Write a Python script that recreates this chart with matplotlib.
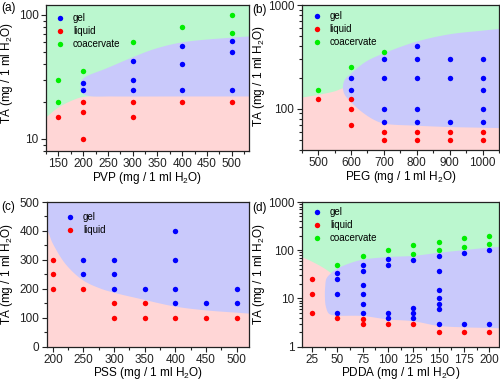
import numpy as np
import matplotlib
matplotlib.use("Agg")
import matplotlib.pyplot as plt
from matplotlib.ticker import FuncFormatter, NullFormatter, MultipleLocator, LogLocator

plt.rcParams['font.family'] = ['Liberation Sans', 'DejaVu Sans']
plt.rcParams['mathtext.fontset'] = 'custom'
plt.rcParams['mathtext.rm'] = 'Liberation Sans'
plt.rcParams['mathtext.it'] = 'Liberation Sans:italic'

# ---------------- data ----------------
# (a) PVP
pvp_gel_x = [200, 200, 300, 300, 300, 400, 400, 400, 500, 500, 500]
pvp_gel_y = [28.5, 25, 42.5, 30, 25, 56.5, 40, 25, 62, 50, 25]
pvp_liq_x = [150, 200, 200, 200, 300, 300, 400, 500]
pvp_liq_y = [15, 20, 16.6, 10, 20, 15, 20, 20]
pvp_coa_x = [150, 150, 200, 300, 400, 500, 500]
pvp_coa_y = [30, 20, 35, 60, 80, 100, 71]

# (b) PEG
peg_gel_x = [600, 600, 700, 700, 700, 700, 800, 800, 800, 800, 800,
             900, 900, 900, 1000, 1000, 1000, 1000, 1000]
peg_gel_y = [200, 150, 300, 200, 100, 75, 400, 300, 200, 100, 75,
             300, 200, 75, 300, 200, 150, 100, 75]
peg_liq_x = [500, 600, 600, 600, 700, 700, 800, 800, 900, 900, 1000, 1000]
peg_liq_y = [125, 125, 100, 70, 60, 50, 60, 50, 60, 50, 60, 50]
peg_coa_x = [500, 600, 700]
peg_coa_y = [150, 250, 350]

# (c) PSS
pss_gel_x = [250, 250, 300, 300, 300, 350, 400, 400, 400, 400, 450, 500, 500]
pss_gel_y = [300, 250, 300, 250, 200, 200, 400, 300, 200, 150, 150, 200, 150]
pss_liq_x = [200, 200, 200, 250, 300, 300, 350, 350, 400, 450, 500]
pss_liq_y = [300, 250, 200, 200, 150, 100, 150, 100, 100, 100, 100]

# (d) PDDA
pdda_gel_x = [50, 50, 50, 50, 75, 75, 75, 75, 75, 75, 100, 100, 100, 100,
              125, 125, 125, 125, 150, 150, 150, 150, 150, 150, 150, 175, 175, 200, 200]
pdda_gel_y = [33.3, 25, 12.5, 5, 50, 37.5, 18.75, 12.5, 7.5, 5, 66.7, 50, 5, 4,
              62.5, 6.25, 5, 4, 75, 37.5, 15, 10, 7.5, 6, 3, 87.5, 3, 100, 3]
pdda_liq_x = [25, 25, 25, 50, 75, 75, 100, 125, 150, 175, 200]
pdda_liq_y = [25, 12.5, 5, 4, 3.75, 3, 3, 3, 2, 2, 2]
pdda_coa_x = [50, 75, 100, 125, 125, 150, 150, 175, 175, 200, 200]
pdda_coa_y = [50, 75, 100, 125, 83.3, 150, 100, 175, 116.7, 200, 133.3]

# region boundaries
a_red_x = [110, 125, 150, 179, 200, 250, 550]
a_red_y = [13.5, 14.9, 17.9, 20.5, 21.8, 22.2, 22.2]
a_blue_x = [550, 400, 260, 212, 199, 194.5, 197, 206, 247, 300, 344, 400, 500, 550]
a_blue_y = [22.0, 22.0, 22.0, 22.2, 23.3, 26, 29.5, 31.8, 37, 45.5, 53, 60, 65.5, 67.5]

b_red_x = [440, 450, 500, 550, 578, 620, 1060]
b_red_y = [127, 128, 136, 147, 158, 160, 160]
b_blue_x = [1060, 1000, 900, 800, 700, 667, 626, 599, 581, 575.5, 581, 599, 646, 700, 800, 900, 1000, 1060]
b_blue_y = [65, 65.6, 66.6, 68.6, 72, 79, 97, 117, 136, 160, 190, 217, 285, 342, 444, 522, 566, 592]

c_red_x = [185, 190, 200, 222, 250, 277, 300, 342, 400, 450, 500, 525]
c_red_y = [412, 405, 356, 282, 228, 201, 186, 165, 138, 125, 117, 113]

d_red_x = [10, 15, 25, 35.6, 43.8, 50, 60, 215]
d_red_y = [80, 72, 58, 44, 33.5, 25, 20, 20]
d_blue_x = [215, 200, 175, 150, 125, 100, 75, 48.8, 42.2, 38.9, 37.9, 38.2, 39.5, 43.8,
            49.8, 62, 74.6, 100, 125, 150, 175, 200, 215]
d_blue_y = [2.38, 2.43, 2.5, 2.68, 3.35, 3.65, 4.3, 4.4, 4.74, 6.7, 10.8, 17.4, 25.9, 32.9,
            41, 53, 63, 72, 76, 88, 100, 113, 118]

GREEN_BG = '#bbf7cf'
RED_BG = '#ffd6d6'
BLUE_BG = '#c9c9fb'
C_GEL = '#0000ff'
C_LIQ = '#ff0000'
C_COA = '#00ee00'


def _cr(P0, P1, P2, P3, n, alpha=0.5):
    def tj(ti, Pi, Pj):
        d = np.linalg.norm(Pj - Pi)
        return ti + max(d, 1e-9) ** alpha
    t0 = 0.0
    t1 = tj(t0, P0, P1)
    t2 = tj(t1, P1, P2)
    t3 = tj(t2, P2, P3)
    t = np.linspace(t1, t2, n)[:, None]
    A1 = (t1 - t) / (t1 - t0) * P0 + (t - t0) / (t1 - t0) * P1
    A2 = (t2 - t) / (t2 - t1) * P1 + (t - t1) / (t2 - t1) * P2
    A3 = (t3 - t) / (t3 - t2) * P2 + (t - t2) / (t3 - t2) * P3
    B1 = (t2 - t) / (t2 - t0) * A1 + (t - t0) / (t2 - t0) * A2
    B2 = (t3 - t) / (t3 - t1) * A2 + (t - t1) / (t3 - t1) * A3
    return (t2 - t) / (t2 - t1) * B1 + (t - t1) / (t2 - t1) * B2


def smooth(xs, ys, xlim, ylim, logy, n=25):
    X = np.asarray(xs, float)
    Y = np.log10(ys) if logy else np.asarray(ys, float)
    sx = xlim[1] - xlim[0]
    sy = (np.log10(ylim[1]) - np.log10(ylim[0])) if logy else (ylim[1] - ylim[0])
    P = np.column_stack([X / sx, Y / sy])
    P = np.vstack([2 * P[0] - P[1], P, 2 * P[-1] - P[-2]])
    segs = []
    for i in range(1, len(P) - 2):
        s = _cr(P[i - 1], P[i], P[i + 1], P[i + 2], n)
        segs.append(s if i == 1 else s[1:])
    C = np.vstack(segs)
    x = C[:, 0] * sx
    y = C[:, 1] * sy
    if logy:
        y = 10 ** y
    return x, y


fig = plt.figure(figsize=(5.0, 3.81), dpi=100)
W, H = 500.0, 381.0


def make_ax(l, r, t, b):
    return fig.add_axes([l / W, 1 - b / H, (r - l) / W, (b - t) / H])


FS = 8.5


def style(ax, xlabel, ylabel, ylab_x, ylab_y=0.5):
    for s in ax.spines.values():
        s.set_color('#222222')
        s.set_linewidth(0.9)
        s.set_zorder(5)
    ax.tick_params(which='both', direction='out', top=False, right=False,
                   labelsize=FS, colors='#222222', width=0.8)
    ax.tick_params(which='major', length=3.5, pad=1.8)
    ax.tick_params(which='minor', length=2)
    ax.set_xlabel(xlabel, fontsize=FS, labelpad=-0.5)
    ax.set_ylabel(ylabel, fontsize=FS)
    ax.yaxis.set_label_coords(ylab_x, ylab_y)


def fill_below(ax, xs, ys, xlim, ylim, logy, color):
    x, y = smooth(xs, ys, xlim, ylim, logy)
    low = ylim[0] * 0.5 if logy else ylim[0] - 100
    ax.fill(np.r_[x, x[-1], x[0]], np.r_[y, low, low], color=color, lw=0, zorder=1)


def fill_closed(ax, xs, ys, xlim, ylim, logy, color):
    x, y = smooth(xs, ys, xlim, ylim, logy)
    ax.fill(x, y, color=color, lw=0, zorder=2)


def dots(ax, x, y, c, label):
    ax.plot(x, y, 'o', ms=3.9, mfc=c, mec='none', color=c, label=label, zorder=4, clip_on=False)


def legend(ax, anchor):
    lg = ax.legend(loc='upper left', bbox_to_anchor=anchor, fontsize=7, frameon=True,
                   fancybox=False, framealpha=0, edgecolor='#444444', borderpad=0.35,
                   labelspacing=0.3, handlelength=1.3, handletextpad=0.7, borderaxespad=0,
                   numpoints=1)
    lg.get_frame().set_linewidth(0.7)
    lg.set_zorder(6)


num_fmt = FuncFormatter(lambda v, p: f'{v:g}')
ylabel = 'TA (mg / 1 ml H$_2$O)'

# ---------- (a) ----------
ax = make_ax(46, 249, 5, 151)
xl, yl = (125, 535), (8, 120)
ax.set_yscale('log')
ax.set_xlim(*xl); ax.set_ylim(*yl)
ax.set_facecolor(GREEN_BG)
fill_below(ax, a_red_x, a_red_y, xl, yl, True, RED_BG)
fill_closed(ax, a_blue_x, a_blue_y, xl, yl, True, BLUE_BG)
dots(ax, pvp_gel_x, pvp_gel_y, C_GEL, 'gel')
dots(ax, pvp_liq_x, pvp_liq_y, C_LIQ, 'liquid')
dots(ax, pvp_coa_x, pvp_coa_y, C_COA, 'coacervate')
ax.xaxis.set_major_locator(MultipleLocator(50))
ax.xaxis.set_minor_locator(MultipleLocator(25))
ax.yaxis.set_major_formatter(num_fmt)
ax.yaxis.set_minor_formatter(NullFormatter())
style(ax, 'PVP (mg / 1 ml H$_2$O)', ylabel, -0.152, 0.53)
legend(ax, (0.02, 0.966))

# ---------- (b) ----------
ax = make_ax(301.7, 499, 5, 150)
xl, yl = (450, 1050), (40, 1000)
ax.set_yscale('log')
ax.set_xlim(*xl); ax.set_ylim(*yl)
ax.set_facecolor(GREEN_BG)
fill_below(ax, b_red_x, b_red_y, xl, yl, True, RED_BG)
fill_closed(ax, b_blue_x, b_blue_y, xl, yl, True, BLUE_BG)
dots(ax, peg_gel_x, peg_gel_y, C_GEL, 'gel')
dots(ax, peg_liq_x, peg_liq_y, C_LIQ, 'liquid')
dots(ax, peg_coa_x, peg_coa_y, C_COA, 'coacervate')
ax.xaxis.set_major_locator(MultipleLocator(100))
ax.xaxis.set_minor_locator(MultipleLocator(50))
ax.yaxis.set_major_formatter(num_fmt)
ax.yaxis.set_minor_formatter(NullFormatter())
style(ax, 'PEG (mg / 1 ml H$_2$O)', ylabel, -0.176, 0.51)
legend(ax, (0.027, 0.979))

# ---------- (c) ----------
ax = make_ax(46.7, 249, 202, 346.5)
xl, yl = (190, 520), (0, 500)
ax.set_xlim(*xl); ax.set_ylim(*yl)
ax.set_facecolor(BLUE_BG)
fill_below(ax, c_red_x, c_red_y, xl, yl, False, RED_BG)
dots(ax, pss_gel_x, pss_gel_y, C_GEL, 'gel')
dots(ax, pss_liq_x, pss_liq_y, C_LIQ, 'liquid')
ax.xaxis.set_major_locator(MultipleLocator(50))
ax.xaxis.set_minor_locator(MultipleLocator(25))
ax.yaxis.set_major_locator(MultipleLocator(100))
ax.yaxis.set_minor_locator(MultipleLocator(50))
style(ax, 'PSS (mg / 1 ml H$_2$O)', ylabel, -0.155, 0.5)
legend(ax, (0.066, 0.954))

# ---------- (d) ----------
ax = make_ax(301.7, 499.3, 202, 346.5)
xl, yl = (15, 210), (1, 1000)
ax.set_yscale('log')
ax.set_xlim(*xl); ax.set_ylim(*yl)
ax.set_facecolor(GREEN_BG)
fill_below(ax, d_red_x, d_red_y, xl, yl, True, RED_BG)
fill_closed(ax, d_blue_x, d_blue_y, xl, yl, True, BLUE_BG)
dots(ax, pdda_gel_x, pdda_gel_y, C_GEL, 'gel')
dots(ax, pdda_liq_x, pdda_liq_y, C_LIQ, 'liquid')
dots(ax, pdda_coa_x, pdda_coa_y, C_COA, 'coacervate')
ax.xaxis.set_major_locator(MultipleLocator(25))
ax.xaxis.set_minor_locator(MultipleLocator(12.5))
ax.yaxis.set_major_locator(LogLocator(base=10))
ax.yaxis.set_major_formatter(num_fmt)
ax.yaxis.set_minor_formatter(NullFormatter())
style(ax, 'PDDA (mg / 1 ml H$_2$O)', ylabel, -0.176, 0.5)
legend(ax, (0.027, 0.988))

# panel letters
fig.text(1 / W, 1 - 2 / H, '(a)', fontsize=FS, va='top', ha='left')
fig.text(252 / W, 1 - 4 / H, '(b)', fontsize=FS, va='top', ha='left')
fig.text(1 / W, 1 - 201 / H, '(c)', fontsize=FS, va='top', ha='left')
fig.text(252 / W, 1 - 202 / H, '(d)', fontsize=FS, va='top', ha='left')

fig.savefig('out.png', dpi=100)
